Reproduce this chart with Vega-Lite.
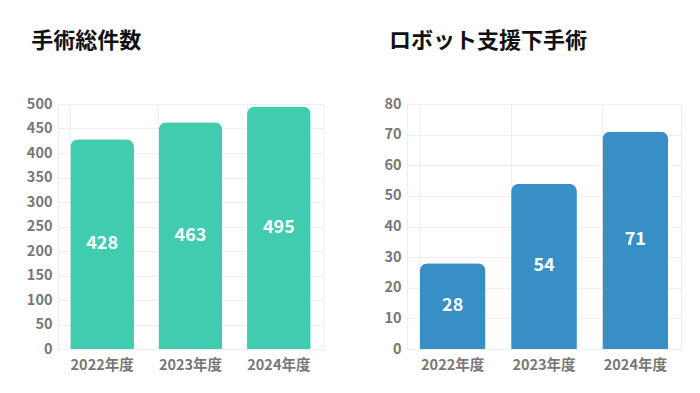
{
  "$schema": "https://vega.github.io/schema/vega-lite/v6.json",
  "background": "white",
  "padding": {"left": 25, "top": 29, "right": 10, "bottom": 10},
  "spacing": 59,
  "config": {
    "font": "Noto Sans CJK JP",
    "view": {"stroke": "#eeeeee", "strokeWidth": 1},
    "axis": {
      "labelFont": "Noto Sans CJK JP",
      "labelFontSize": 14.5,
      "labelFontWeight": "bold",
      "labelColor": "#777777",
      "domain": false,
      "ticks": false,
      "gridColor": "#eeeeee",
      "title": null,
      "labelPadding": 6
    },
    "axisX": {"labelPadding": 9},
    "title": {
      "font": "Noto Sans CJK JP",
      "fontSize": 22,
      "fontWeight": "bold",
      "color": "#111111",
      "anchor": "start",
      "offset": 43,
      "dx": 5
    }
  },
  "datasets": {
    "total": [
      {"year": "2022年度", "count": 428},
      {"year": "2023年度", "count": 463},
      {"year": "2024年度", "count": 495}
    ],
    "robot": [
      {"year": "2022年度", "count": 28},
      {"year": "2023年度", "count": 54},
      {"year": "2024年度", "count": 71}
    ]
  },
  "hconcat": [
    {
      "title": "手術総件数",
      "width": 265,
      "height": 245,
      "data": {"name": "total"},
      "encoding": {
        "x": {"field": "year", "type": "nominal", "sort": null,
              "scale": {"paddingInner": 0.28, "paddingOuter": 0.14},
              "axis": {"labelAngle": 0, "grid": true, "bandPosition": 0}}
      },
      "layer": [
        {"mark": {"type": "bar", "color": "#40CCAF", "cornerRadiusTopLeft": 8, "cornerRadiusTopRight": 8},
         "encoding": {"y": {"field": "count", "type": "quantitative",
              "scale": {"domain": [0, 500]},
              "axis": {"values": [0,50,100,150,200,250,300,350,400,450,500]}}}},
        {"mark": {"type": "text", "color": "white", "fontSize": 18, "fontWeight": "bold", "baseline": "middle"},
         "encoding": {"y": {"field": "count", "type": "quantitative", "scale": {"domain": [0, 1000]}, "axis": null},
                      "text": {"field": "count"}}}
      ],
      "resolve": {"scale": {"y": "independent"}}
    },
    {
      "title": "ロボット支援下手術",
      "width": 274,
      "height": 245,
      "data": {"name": "robot"},
      "encoding": {
        "x": {"field": "year", "type": "nominal", "sort": null,
              "scale": {"paddingInner": 0.28, "paddingOuter": 0.14},
              "axis": {"labelAngle": 0, "grid": true, "bandPosition": 0}}
      },
      "layer": [
        {"mark": {"type": "bar", "color": "#378FC6", "cornerRadiusTopLeft": 8, "cornerRadiusTopRight": 8},
         "encoding": {"y": {"field": "count", "type": "quantitative",
              "scale": {"domain": [0, 80]},
              "axis": {"values": [0,10,20,30,40,50,60,70,80]}}}},
        {"mark": {"type": "text", "color": "white", "fontSize": 18, "fontWeight": "bold", "baseline": "middle"},
         "encoding": {"y": {"field": "count", "type": "quantitative", "scale": {"domain": [0, 160]}, "axis": null},
                      "text": {"field": "count"}}}
      ],
      "resolve": {"scale": {"y": "independent"}}
    }
  ]
}
